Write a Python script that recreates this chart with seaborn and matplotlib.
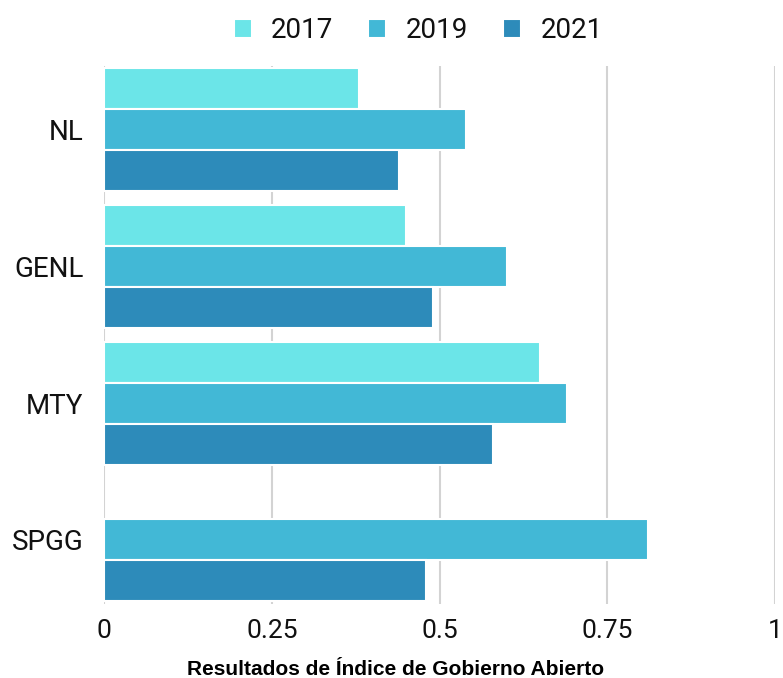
import pandas as pd
import numpy as np
import matplotlib.pyplot as plt
import seaborn as sns

# values
categories = ["NL", "GENL", "MTY", "SPGG"]
years = ["2017", "2019", "2021"]
v2017 = [0.38, 0.45, 0.65, np.nan]
v2019 = [0.54, 0.60, 0.69, 0.81]
v2021 = [0.44, 0.49, 0.58, 0.48]
colors = ["#6be5e8", "#42b8d6", "#2d8bba"]

df = pd.DataFrame({
    "Entidad": categories * 3,
    "Año": [y for y in years for _ in categories],
    "Valor": v2017 + v2019 + v2021,
})

sns.set_style("white")
plt.rcParams["font.family"] = ["Roboto", "DejaVu Sans"]

fig = plt.figure(figsize=(7.83, 6.78), dpi=100)
ax = fig.add_axes([0.133, 0.109, 0.857, 0.794])

sns.barplot(data=df, y="Entidad", x="Valor", hue="Año", orient="h",
            palette=colors, saturation=1, width=0.9, edgecolor="white",
            linewidth=1.5, order=categories, hue_order=years, ax=ax, zorder=2)

ax.set_xlim(0, 1)
ax.set_ylim(3.47, -0.47)
ax.set_xticks([0, 0.25, 0.5, 0.75, 1])
ax.set_xticklabels(["0", "0.25", "0.5", "0.75", "1"])
ax.grid(axis="x", color="#d3d3d3", linewidth=1.5, zorder=0)
ax.set_axisbelow(True)
sns.despine(ax=ax, left=True, bottom=True, top=True, right=True)
ax.tick_params(axis="x", length=0, labelsize=19, pad=11, labelcolor="#111111")
ax.tick_params(axis="y", length=0, labelsize=20, pad=15, labelcolor="#111111")
ax.set_ylabel("")
ax.set_xlabel("Resultados de Índice de Gobierno Abierto", fontsize=15,
              fontweight="bold", family="Liberation Sans", color="black")
ax.xaxis.set_label_coords(0.434, -0.104)

ax.legend(loc="upper center", bbox_to_anchor=(0.468, 1.137), ncol=3,
          frameon=False, fontsize=20, handlelength=0.65, handleheight=0.65,
          columnspacing=1.25, handletextpad=0.7, labelcolor="#111111")

plt.savefig("out.png", dpi=100)
